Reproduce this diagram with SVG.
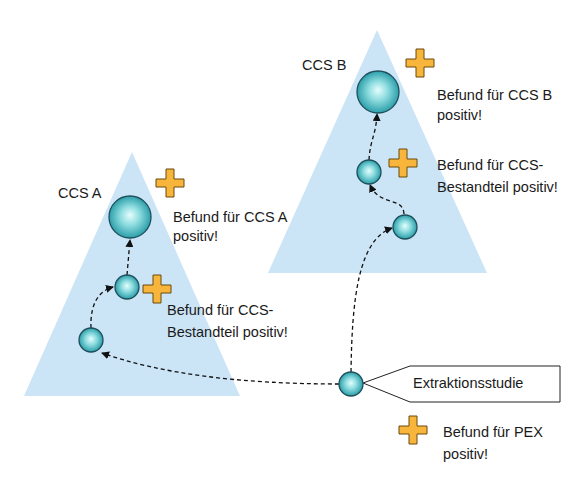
<svg xmlns="http://www.w3.org/2000/svg" width="574" height="493" viewBox="0 0 574 493">
<defs>
<radialGradient id="sph" cx="50%" cy="50%" r="50%" fx="50%" fy="45%">
<stop offset="0" stop-color="#e6fdfd"/>
<stop offset="0.45" stop-color="#8fdde0"/>
<stop offset="1" stop-color="#2b9ea9"/>
</radialGradient>
<marker id="arr" markerWidth="8" markerHeight="8" refX="7" refY="4" orient="auto" markerUnits="userSpaceOnUse">
<path d="M0,0 L8,4 L0,8 z" fill="#111"/>
</marker>
<path id="plus" d="M-4,-14 H4 V-4 H14 V4 H4 V14 H-4 V4 H-14 V-4 H-4 Z"/>
</defs>
<style>
.tri{fill:#cbe4f6;}
.sph{fill:url(#sph);stroke:#1e4f5b;stroke-width:1.3;}
.pl{fill:#f7b53c;stroke:#6b4a0c;stroke-width:1;}
.t{font-family:"Liberation Sans",Arial,sans-serif;font-size:14.5px;fill:#1a1a1a;}
.c{fill:none;stroke:#111;stroke-width:1.3;stroke-dasharray:4 3;marker-end:url(#arr);}
.call{fill:#fff;stroke:#222;stroke-width:1;}
</style>
<rect width="574" height="493" fill="#fff"/>
<g id="triangleA"><polygon class="tri" points="132,152 240,396 24,396"/></g>
<g id="triangleB"><polygon class="tri" points="377,30 487,273 268,273"/></g>
<g id="callout"><polygon class="call" points="363,383 410,366 560,366 560,402 410,402"/><text class="t" x="413" y="388">Extraktionsstudie</text></g>
<g id="connectors">
<path class="c" d="M339,384 Q190,384 102,353"/>
<path class="c" d="M91,328 C90,305 98,291 113,287"/>
<path class="c" d="M127,275 L130,240"/>
<path class="c" d="M351,372 C352,300 358,240 392,228"/>
<path class="c" d="M404,214 C403,196 380,207 370,185"/>
<path class="c" d="M369,160 C370,140 376,135 377,114"/>
</g>
<g id="nodeA1"><circle class="sph" cx="91" cy="340" r="12"/></g>
<g id="nodeA2"><circle class="sph" cx="127" cy="287" r="12"/></g>
<g id="nodeA3"><circle class="sph" cx="130" cy="217" r="21"/></g>
<g id="nodeB1"><circle class="sph" cx="405" cy="227" r="12"/></g>
<g id="nodeB2"><circle class="sph" cx="369" cy="172" r="12"/></g>
<g id="nodeB3"><circle class="sph" cx="378" cy="92" r="21"/></g>
<g id="nodePEX"><circle class="sph" cx="351" cy="384" r="12"/></g>
<g id="labelA"><text class="t" x="58" y="198">CCS A</text></g>
<g id="labelB"><text class="t" x="302" y="70">CCS B</text></g>
<g id="plusA3"><use href="#plus" class="pl" x="170" y="183"/><text class="t" x="173" y="222">Befund für CCS A</text><text class="t" x="173" y="241">positiv!</text></g>
<g id="plusA2"><use href="#plus" class="pl" x="157" y="289"/><text class="t" x="167" y="315">Befund für CCS-</text><text class="t" x="167" y="337">Bestandteil positiv!</text></g>
<g id="plusB3"><use href="#plus" class="pl" x="420" y="63"/><text class="t" x="437" y="100">Befund für CCS B</text><text class="t" x="437" y="120">positiv!</text></g>
<g id="plusB2"><use href="#plus" class="pl" x="403" y="163"/><text class="t" x="437" y="170">Befund für CCS-</text><text class="t" x="437" y="192">Bestandteil positiv!</text></g>
<g id="plusPEX"><use href="#plus" class="pl" x="413" y="430"/><text class="t" x="443" y="437">Befund für PEX</text><text class="t" x="443" y="459">positiv!</text></g>
</svg>
